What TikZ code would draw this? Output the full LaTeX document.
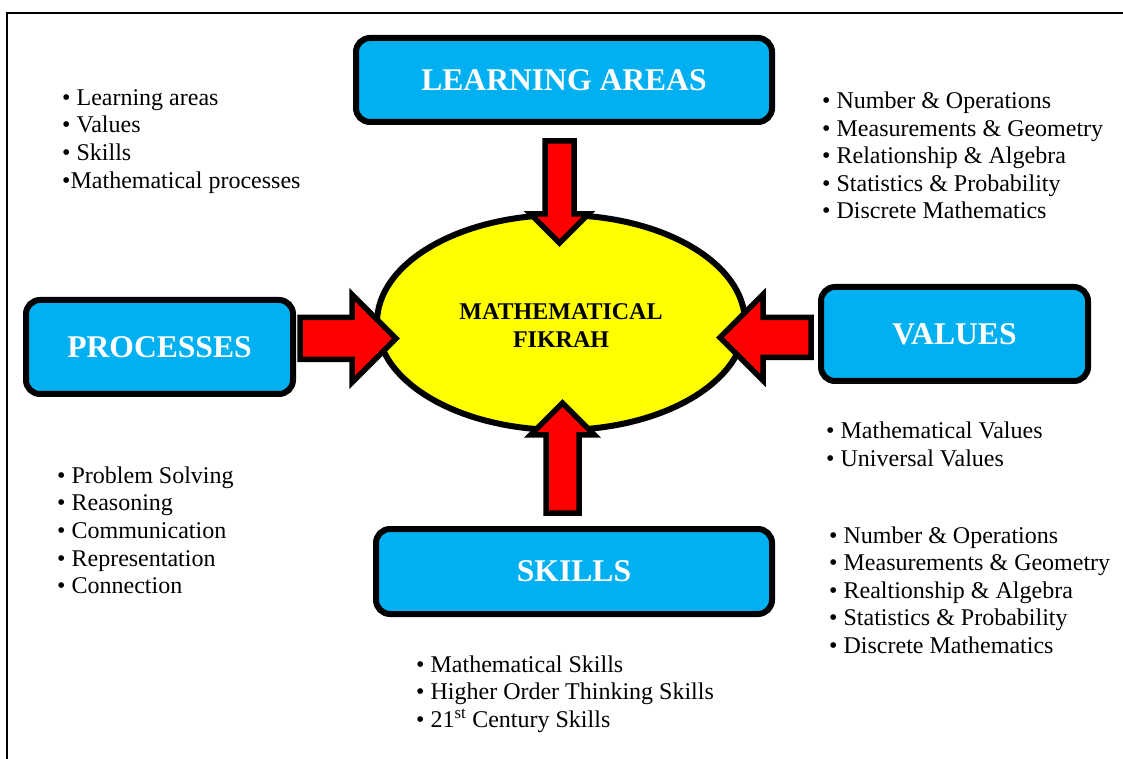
\documentclass[tikz,border=0pt]{standalone}
\usepackage{fontspec}
\setmainfont{Liberation Serif}
\usetikzlibrary{calc,shapes.geometric}

\definecolor{boxblue}{RGB}{0,176,240}
\definecolor{arrowred}{RGB}{255,0,0}
\definecolor{hubyellow}{RGB}{255,255,0}

\tikzset{
  % heading boxes around the central idea
  headbox/.style={draw=black, line width=6pt, fill=boxblue, rounded corners=14pt,
    text=white, font=\fontsize{31.6}{36}\selectfont\bfseries, inner sep=0pt},
  % central ellipse
  hub/.style={ellipse, draw=black, line width=6pt, fill=hubyellow, inner sep=0pt,
    minimum width=368pt, minimum height=215pt},
  hubtext/.style={align=center, inner sep=0pt, font=\fontsize{24}{28}\selectfont\bfseries},
  % one bullet line of a list
  item/.style={anchor=base west, inner sep=0pt, font=\fontsize{24}{28}\selectfont},
  % block arrow from the shaft end to the tip; #1 = half shaft width, #2 = head half width (= head length)
  fat arrow/.style n args={2}{draw=black, fill=arrowred, line width=5.5pt, line join=miter,
    to path={
      let \p1=(\tikztostart), \p2=(\tikztotarget),
          \n1={veclen(\x2-\x1,\y2-\y1)}, \n2={atan2(\y2-\y1,\x2-\x1)} in
      ($(\p1)+(\n2+90:#1)$)
      -- ($(\p1)+(\n2:{\n1-#2})+(\n2+90:#1)$)
      -- ($(\p1)+(\n2:{\n1-#2})+(\n2+90:#2)$)
      -- (\p2)
      -- ($(\p1)+(\n2:{\n1-#2})+(\n2-90:#2)$)
      -- ($(\p1)+(\n2:{\n1-#2})+(\n2-90:#1)$)
      -- ($(\p1)+(\n2-90:#1)$)
      -- cycle}},
}

\begin{document}
\begin{tikzpicture}[x=1pt, y=1pt]
\useasboundingbox (0,0) rectangle (1123,758);

% page frame
\draw[line width=2pt] (7,-5) -- (7,745) -- (1130,745);

% heading boxes
\node[headbox, minimum width=416pt, minimum height=84pt] (learn) at (564,678) {LEARNING AREAS};
\node[headbox, minimum width=267pt, minimum height=94pt] (proc) at (159.5,411) {PROCESSES};
\node[headbox, minimum width=267pt, minimum height=94pt] (vals) at (954.5,424) {VALUES};
\node[headbox, minimum width=396pt, minimum height=85pt] (skill) at (574,186.5) {SKILLS};

% central idea
\node[hub] (fikrah) at (561,435.5) {};
\node[hubtext] (fikrahtext) at (561,432.5) {MATHEMATICAL\\FIKRAH};

% arrow ends
\coordinate (tA) at (559.5,617);  \coordinate (tB) at (559.5,515);
\coordinate (lA) at (300,419.5);  \coordinate (lB) at (396,419.5);
\coordinate (rA) at (811,420.5);  \coordinate (rB) at (720,420.5);
\coordinate (bA) at (562.5,245);  \coordinate (bB) at (562.5,355);

\draw[fat arrow={14.5}{29}] (tA) to (tB);
\draw[fat arrow={21}{44}]   (lA) to (lB);
\draw[fat arrow={20}{43}]   (rA) to (rB);
\draw[fat arrow={16.5}{32}] (bA) to (bB);

% lists
\foreach \t [count=\i] in {• Learning areas, • Values, • Skills, •Mathematical processes}
  \node[item] (comp\i) at (62,{652.7-(\i-1)*27.7}) {\t};

\foreach \t [count=\i] in {• Number \& Operations, • Measurements \& Geometry,
    • Relationship \& Algebra, • Statistics \& Probability, • Discrete Mathematics}
  \node[item] (area\i) at (822,{649.4-(\i-1)*27.6}) {\t};

\foreach \t [count=\i] in {• Problem Solving, • Reasoning, • Communication,
    • Representation, • Connection}
  \node[item] (procitem\i) at (57,{274.7-(\i-1)*27.6}) {\t};

\foreach \t [count=\i] in {• Mathematical Values, • Universal Values}
  \node[item] (valitem\i) at (826,{319-(\i-1)*27.6}) {\t};

\foreach \t [count=\i] in {• Number \& Operations, • Measurements \& Geometry,
    • Realtionship \& Algebra, • Statistics \& Probability, • Discrete Mathematics}
  \node[item] (skarea\i) at (829,{215-(\i-1)*27.6}) {\t};

\foreach \t [count=\i] in {• Mathematical Skills, • Higher Order Thinking Skills,
    {• 21\textsuperscript{st} Century Skills}}
  \node[item] (skitem\i) at (416,{85.8-(\i-1)*27.6}) {\t};
\end{tikzpicture}
\end{document}
